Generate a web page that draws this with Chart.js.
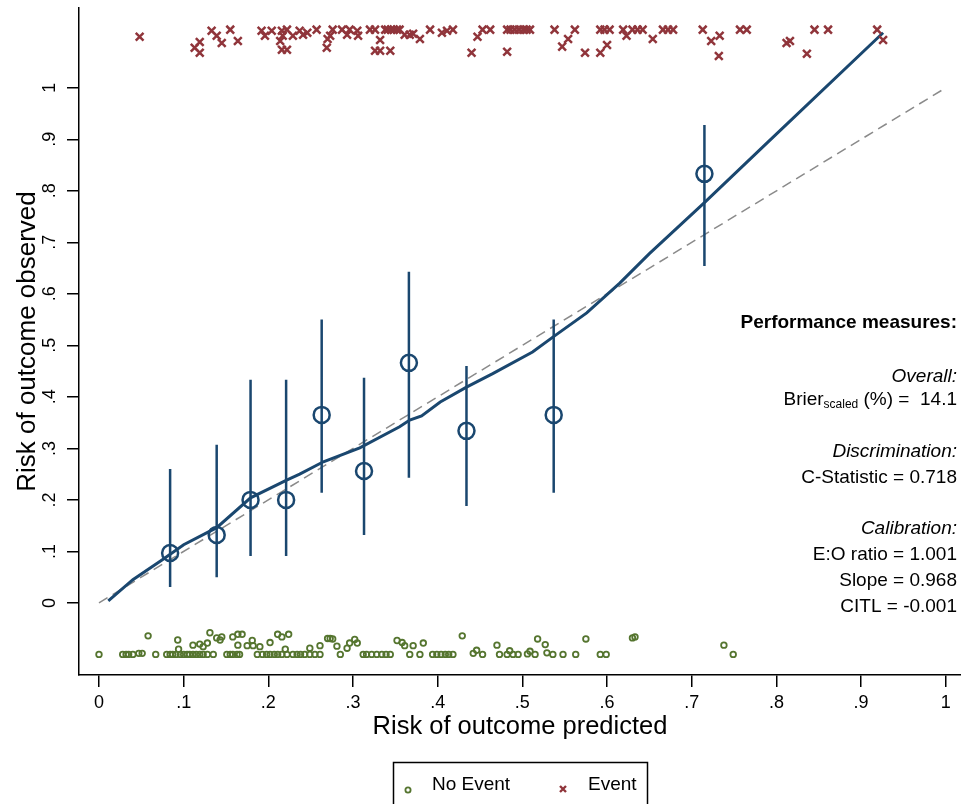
<!DOCTYPE html>
<html>
<head>
<meta charset="utf-8">
<script src="https://cdn.jsdelivr.net/npm/chart.js@4.4.1/dist/chart.umd.min.js"></script>
<style>
  html, body { margin: 0; padding: 0; background: #fff; overflow: hidden; }
</style>
</head>
<body>
<canvas id="calibration_chart" width="961" height="804"></canvas>
<script>
// ---- data ----
const xTicks = [0, 0.1, 0.2, 0.3, 0.4, 0.5, 0.6, 0.7, 0.8, 0.9, 1];
const xTickLabels = ["0", ".1", ".2", ".3", ".4", ".5", ".6", ".7", ".8", ".9", "1"];
const yTicks = [0, 0.1, 0.2, 0.3, 0.4, 0.5, 0.6, 0.7, 0.8, 0.9, 1];
const yTickLabels = ["0", ".1", ".2", ".3", ".4", ".5", ".6", ".7", ".8", ".9", "1"];

// grouped observed risk with 95% CI
const binPredicted = [0.084, 0.139, 0.179, 0.221, 0.263, 0.313, 0.366, 0.434, 0.537, 0.715];
const binObserved  = [0.097, 0.132, 0.200, 0.200, 0.365, 0.256, 0.466, 0.334, 0.365, 0.833];
const binLower     = [0.031, 0.050, 0.091, 0.091, 0.214, 0.132, 0.243, 0.188, 0.214, 0.654];
const binUpper     = [0.260, 0.307, 0.433, 0.433, 0.550, 0.437, 0.643, 0.460, 0.550, 0.928];

// smoothed calibration curve
const smoothX = [0.011, 0.040, 0.074, 0.100, 0.139, 0.179, 0.221, 0.237, 0.265, 0.308, 0.355, 0.367, 0.381, 0.403, 0.434, 0.465, 0.512, 0.536, 0.576, 0.615, 0.650, 0.715, 0.789, 0.926];
const smoothY = [0.004, 0.045, 0.083, 0.113, 0.146, 0.204, 0.238, 0.250, 0.274, 0.301, 0.342, 0.355, 0.363, 0.390, 0.419, 0.445, 0.487, 0.516, 0.563, 0.621, 0.678, 0.777, 0.893, 1.107];

// reference line
const refX = [0, 1];
const refY = [0, 1];

// individual outcomes (jittered rugs)
const eventX = [0.048, 0.113, 0.119, 0.119, 0.133, 0.139, 0.145, 0.155, 0.164, 0.192, 0.196, 0.204, 0.216, 0.222, 0.214, 0.216, 0.222, 0.217,
  0.229, 0.237, 0.246, 0.241, 0.257, 0.269, 0.273, 0.276, 0.270, 0.287, 0.293, 0.296, 0.305, 0.306, 0.320, 0.326, 0.332, 0.326, 0.332, 0.344,
  0.338, 0.341, 0.345, 0.348, 0.352, 0.355, 0.361, 0.367, 0.371, 0.379, 0.391, 0.405, 0.411, 0.418, 0.440, 0.447, 0.453, 0.462,
  0.482, 0.486, 0.491, 0.496, 0.501, 0.505, 0.509, 0.482, 0.538, 0.547, 0.554, 0.562, 0.574, 0.592, 0.597, 0.603, 0.592, 0.600,
  0.619, 0.623, 0.630, 0.636, 0.642, 0.654, 0.666, 0.672, 0.678, 0.713, 0.723, 0.733, 0.732, 0.757, 0.765, 0.812, 0.816, 0.836,
  0.845, 0.861, 0.919, 0.926];
const eventY = [1.099, 1.078, 1.089, 1.068, 1.111, 1.101, 1.087, 1.113, 1.091, 1.111, 1.101, 1.111, 1.111, 1.113, 1.091, 1.074, 1.074, 1.101,
  1.101, 1.111, 1.107, 1.103, 1.113, 1.078, 1.101, 1.113, 1.095, 1.113, 1.103, 1.113, 1.111, 1.101, 1.113, 1.113, 1.093, 1.072, 1.072, 1.072,
  1.113, 1.113, 1.113, 1.113, 1.113, 1.113, 1.103, 1.103, 1.105, 1.095, 1.113, 1.107, 1.111, 1.113, 1.068, 1.099, 1.113, 1.113,
  1.113, 1.113, 1.113, 1.113, 1.113, 1.113, 1.113, 1.070, 1.113, 1.080, 1.095, 1.113, 1.068, 1.113, 1.113, 1.113, 1.068, 1.083,
  1.113, 1.101, 1.113, 1.113, 1.113, 1.095, 1.113, 1.113, 1.113, 1.113, 1.091, 1.101, 1.062, 1.113, 1.113, 1.087, 1.091, 1.066,
  1.113, 1.113, 1.113, 1.093];

const noEventX = [0.000, 0.028, 0.032, 0.035, 0.040, 0.047, 0.051, 0.058, 0.067, 0.080, 0.084, 0.087, 0.091, 0.093, 0.094, 0.096, 0.100,
  0.104, 0.107, 0.111, 0.111, 0.115, 0.119, 0.119, 0.123, 0.123, 0.128, 0.128, 0.131, 0.135, 0.139, 0.143, 0.145, 0.151, 0.155,
  0.158, 0.158, 0.163, 0.164, 0.164, 0.166, 0.169, 0.175, 0.181, 0.182, 0.187, 0.190, 0.193, 0.198, 0.202, 0.202, 0.207, 0.211,
  0.211, 0.216, 0.216, 0.222, 0.224, 0.220, 0.229, 0.234, 0.238, 0.243, 0.249, 0.249, 0.255, 0.261, 0.261, 0.270, 0.276, 0.273,
  0.281, 0.285, 0.293, 0.296, 0.302, 0.305, 0.312, 0.316, 0.322, 0.328, 0.334, 0.339, 0.344, 0.352, 0.358, 0.361, 0.367, 0.371,
  0.379, 0.383, 0.394, 0.399, 0.404, 0.409, 0.413, 0.418, 0.429, 0.442, 0.446, 0.453, 0.470, 0.473, 0.482, 0.485, 0.489, 0.495,
  0.506, 0.509, 0.515, 0.518, 0.527, 0.529, 0.536, 0.548, 0.563, 0.575, 0.592, 0.599, 0.630, 0.633, 0.738, 0.749];
const noEventY = [-0.100, -0.100, -0.100, -0.100, -0.100, -0.098, -0.098, -0.064, -0.100, -0.100, -0.100, -0.100, -0.100, -0.072, -0.090, -0.100, -0.100,
  -0.100, -0.100, -0.100, -0.082, -0.100, -0.080, -0.100, -0.085, -0.100, -0.078, -0.100, -0.058, -0.100, -0.068, -0.072, -0.066, -0.100, -0.100,
  -0.066, -0.100, -0.100, -0.061, -0.082, -0.100, -0.061, -0.083, -0.073, -0.083, -0.100, -0.085, -0.100, -0.100, -0.077, -0.100, -0.100, -0.061,
  -0.100, -0.066, -0.100, -0.100, -0.061, -0.090, -0.100, -0.100, -0.100, -0.100, -0.088, -0.100, -0.100, -0.083, -0.100, -0.069, -0.070, -0.069,
  -0.084, -0.100, -0.088, -0.078, -0.071, -0.078, -0.100, -0.100, -0.100, -0.100, -0.100, -0.100, -0.100, -0.073, -0.077, -0.083, -0.100, -0.083,
  -0.100, -0.078, -0.100, -0.100, -0.100, -0.100, -0.100, -0.100, -0.064, -0.098, -0.092, -0.100, -0.082, -0.100, -0.100, -0.093, -0.100, -0.100,
  -0.099, -0.094, -0.100, -0.070, -0.081, -0.097, -0.100, -0.100, -0.100, -0.070, -0.100, -0.100, -0.068, -0.066, -0.082, -0.100];

const legendLabels = ["No Event", "Event"];
const perfHeading = "Performance measures:";
const perfLines = [
  ["Overall:", "italic"],
  ["Brier|scaled| (%) =  14.1", "normal"],
  ["Discrimination:", "italic"],
  ["C-Statistic = 0.718", "normal"],
  ["Calibration:", "italic"],
  ["E:O ratio = 1.001", "normal"],
  ["Slope = 0.968", "normal"],
  ["CITL = -0.001", "normal"],
];

// ---- colours ----
const navy = "#1a476f";
const green = "#55752f";
const maroon = "#90353b";
const FONT = "'Liberation Sans', Arial, Helvetica, sans-serif";

const zip = (xs, ys) => xs.map((x, i) => ({ x: x, y: ys[i] }));

const ciData = [];
binPredicted.forEach((x, i) => {
  ciData.push({ x: x, y: binLower[i] }, { x: x, y: binUpper[i] }, { x: x, y: null });
});

// text block + boxed legend (drawn after the chart)
const extras = {
  id: "extras",
  afterDraw(chart) {
    const ctx = chart.ctx;
    ctx.save();
    ctx.fillStyle = "#000";
    ctx.textBaseline = "middle";

    // performance measures
    const right = 957;
    ctx.textAlign = "right";
    ctx.font = "bold 19px " + FONT;
    ctx.fillText(perfHeading, right, 323);
    const rowsY = [377, 400, 452, 478, 529, 555, 581, 607];
    perfLines.forEach((row, i) => {
      const [txt, style] = row;
      const y = rowsY[i];
      if (txt.indexOf("|") >= 0) {
        const parts = txt.split("|");
        ctx.textAlign = "left";
        ctx.font = "19px " + FONT;
        const w1 = ctx.measureText(parts[0]).width;
        const w3 = ctx.measureText(parts[2]).width;
        ctx.font = "12px " + FONT;
        const w2 = ctx.measureText(parts[1]).width;
        let x = right - w1 - w2 - w3;
        ctx.font = "19px " + FONT;
        ctx.fillText(parts[0], x, y);
        ctx.font = "12px " + FONT;
        ctx.fillText(parts[1], x + w1, y + 5);
        ctx.font = "19px " + FONT;
        ctx.fillText(parts[2], x + w1 + w2, y);
      } else {
        ctx.textAlign = "right";
        ctx.font = (style === "italic" ? "italic " : "") + "19px " + FONT;
        ctx.fillText(txt, right, y);
      }
    });

    // legend box
    ctx.strokeStyle = "#000";
    ctx.lineWidth = 1.5;
    ctx.strokeRect(393.5, 762.5, 254, 60);
    ctx.textAlign = "left";
    ctx.font = "19px " + FONT;
    ctx.strokeStyle = green;
    ctx.lineWidth = 1.8;
    ctx.beginPath();
    ctx.arc(408, 790, 2.6, 0, Math.PI * 2);
    ctx.stroke();
    ctx.fillStyle = "#000";
    ctx.fillText(legendLabels[0], 432, 785);
    ctx.strokeStyle = maroon;
    ctx.lineWidth = 2.4;
    ctx.beginPath();
    ctx.moveTo(560, 786); ctx.lineTo(566, 792);
    ctx.moveTo(566, 786); ctx.lineTo(560, 792);
    ctx.stroke();
    ctx.fillText(legendLabels[1], 588, 785);
    ctx.restore();
  }
};

const axisFont = { family: FONT, size: 18 };
const titleFont = { family: FONT, size: 25.5 };

let context = document.querySelector("#calibration_chart").getContext("2d");
new Chart(context, {
  type: "scatter",
  data: {
    datasets: [
      {
        label: "Event",
        data: zip(eventX, eventY),
        pointStyle: "crossRot",
        pointRadius: 5.5,
        borderColor: maroon,
        backgroundColor: maroon,
        pointBorderWidth: 2.5,
        order: 1,
      },
      {
        label: "No Event",
        data: zip(noEventX, noEventY),
        pointStyle: "circle",
        pointRadius: 2.8,
        borderColor: green,
        backgroundColor: "rgba(0,0,0,0)",
        pointBorderWidth: 1.8,
        order: 1,
      },
      {
        label: "Observed",
        data: zip(binPredicted, binObserved),
        pointStyle: "circle",
        pointRadius: 8,
        borderColor: navy,
        backgroundColor: "rgba(0,0,0,0)",
        pointBorderWidth: 2.5,
        order: 2,
      },
      {
        label: "95% CI",
        data: ciData,
        showLine: true,
        spanGaps: false,
        borderColor: navy,
        borderWidth: 2.5,
        pointRadius: 0,
        order: 3,
      },
      {
        label: "Smoothed",
        data: zip(smoothX, smoothY),
        showLine: true,
        borderColor: navy,
        borderWidth: 3,
        pointRadius: 0,
        tension: 0,
        order: 4,
      },
      {
        label: "Reference",
        data: zip(refX, refY),
        showLine: true,
        borderColor: "#8a8a8a",
        borderWidth: 1.5,
        borderDash: [10, 6],
        pointRadius: 0,
        order: 5,
      },
    ],
  },
  options: {
    responsive: false,
    animation: false,
    layout: { autoPadding: false, padding: { top: 8, right: 0, bottom: 0, left: 0 } },
    scales: {
      x: {
        type: "linear",
        min: -0.0236,
        max: 1.018,
        afterBuildTicks: (s) => { s.ticks = xTicks.map((v) => ({ value: v })); },
        afterFit: (s) => {
          s.height = 129;
          s.paddingLeft = 0;
          s.paddingRight = 0;
        },
        ticks: {
          callback: (value, i) => xTickLabels[i],
          font: axisFont,
          color: "#000",
          padding: 5,
          maxRotation: 0,
          autoSkip: false,
        },
        grid: { drawOnChartArea: false, tickLength: 12, color: "#000", lineWidth: 1.5 },
        border: { color: "#000", width: 1.5 },
        title: {
          display: true,
          text: "Risk of outcome predicted",
          font: titleFont,
          color: "#000",
          padding: { top: 0, bottom: 62 },
        },
      },
      y: {
        type: "linear",
        min: -0.14,
        max: 1.155,
        afterBuildTicks: (s) => { s.ticks = yTicks.map((v) => ({ value: v })); },
        afterFit: (s) => {
          s.width = 79;
          s.paddingTop = 0;
          s.paddingBottom = 0;
        },
        ticks: {
          callback: (value, i) => yTickLabels[i],
          font: axisFont,
          color: "#000",
          padding: 9,
          minRotation: 90,
          maxRotation: 90,
          crossAlign: "center",
          autoSkip: false,
        },
        grid: { drawOnChartArea: false, tickLength: 12, color: "#000", lineWidth: 1.5 },
        border: { color: "#000", width: 1.5 },
        title: {
          display: true,
          text: "Risk of outcome observed",
          font: { family: FONT, size: 26 },
          color: "#000",
          padding: { top: 12, bottom: 0 },
        },
      },
    },
    plugins: {
      legend: { display: false },
      tooltip: { enabled: false },
    },
  },
  plugins: [extras],
});
</script>
</body>
</html>
